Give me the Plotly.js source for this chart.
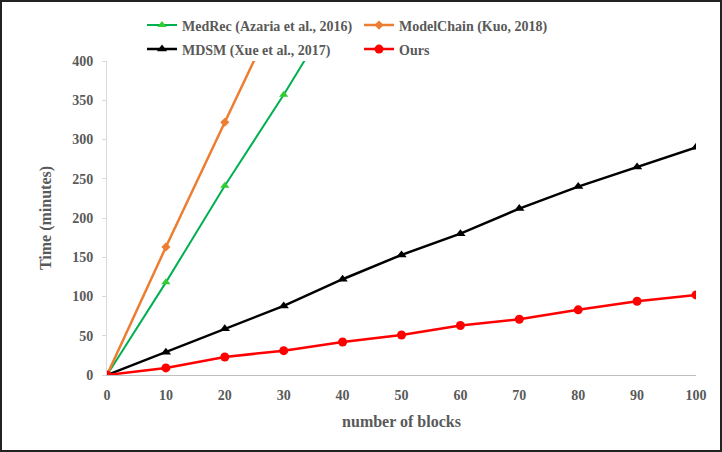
<!DOCTYPE html>
<html>
<head>
<meta charset="utf-8">
<script src="https://cdn.plot.ly/plotly-3.0.1.min.js"></script>
<style>
html,body{margin:0;padding:0;background:#fff;}
#frame{box-sizing:border-box;width:722px;height:452px;border:2px solid #222;overflow:hidden;}
#chart{width:718px;height:448px;}
</style>
</head>
<body>
<div id="frame"><div id="chart"></div></div>
<script>
const blocks = [0, 10, 20, 30, 40, 50, 60, 70, 80, 90, 100];
const medrecX = [0, 10, 20, 30, 40];
const medrec = [0, 118, 241, 357, 480];
const modelchainX = [0, 10, 20, 30];
const modelchain = [0, 163, 322, 480];
const mdsm = [0, 29, 59, 88, 122, 153, 180, 212, 240, 265, 290];
const ours = [0, 9, 23, 31, 42, 51, 63, 71, 83, 94, 102];
const xTicks = [0, 10, 20, 30, 40, 50, 60, 70, 80, 90, 100];
const yTicks = [0, 50, 100, 150, 200, 250, 300, 350, 400];

const fontFam = '"Liberation Serif", "Times New Roman", serif';
const grey = '#595959';

const traces = [
  {x: medrecX, y: medrec, name: 'MedRec (Azaria et al., 2016)', mode: 'lines+markers',
   line: {color: '#00b050', width: 2}, marker: {symbol: 'triangle-up', size: 8, color: '#33cc33'},
   legend: 'legend'},
  {x: modelchainX, y: modelchain, name: 'ModelChain (Kuo, 2018)', mode: 'lines+markers',
   line: {color: '#ed7d31', width: 2.5}, marker: {symbol: 'diamond', size: 7, color: '#ed7d31'},
   legend: 'legend'},
  {x: blocks, y: mdsm, name: 'MDSM (Xue et al., 2017)', mode: 'lines+markers',
   line: {color: '#000000', width: 2.5}, marker: {symbol: 'triangle-up', size: 9, color: '#000000'},
   legend: 'legend2'},
  {x: blocks, y: ours, name: 'Ours', mode: 'lines+markers',
   line: {color: '#ff0000', width: 2.5}, marker: {symbol: 'circle', size: 9, color: '#ff0000'},
   legend: 'legend2'}
];

const legendCommon = {
  orientation: 'h', xref: 'container', yref: 'container', xanchor: 'left', yanchor: 'middle',
  entrywidth: 172, entrywidthmode: 'pixels',
  font: {family: fontFam, size: 14, color: grey, weight: 'bold'},
  bgcolor: 'rgba(0,0,0,0)', itemwidth: 30
};

const layout = {
  width: 718, height: 448,
  margin: {l: 105, r: 24, t: 59, b: 75, autoexpand: false},
  paper_bgcolor: '#ffffff', plot_bgcolor: '#ffffff',
  font: {family: fontFam, color: grey, size: 14, weight: 'bold'},
  showlegend: true,
  legend: Object.assign({x: 0.195, y: 1 - 23.5/448}, legendCommon),
  legend2: Object.assign({x: 0.195, y: 1 - 47.5/448}, legendCommon),
  xaxis: {
    range: [0, 100], tickvals: xTicks, ticktext: xTicks.map(String),
    showgrid: false, zeroline: false, showline: true, linecolor: '#bfbfbf', linewidth: 1,
    ticks: '', ticklabelstandoff: 7,
    tickfont: {family: fontFam, size: 14, color: grey, weight: 'bold'},
    title: {text: 'number of blocks', standoff: 14, font: {family: fontFam, size: 16, color: grey, weight: 'bold'}}
  },
  yaxis: {
    range: [0, 400], tickvals: yTicks, ticktext: yTicks.map(String),
    showgrid: false, zeroline: false, showline: true, linecolor: '#d9d9d9', linewidth: 1,
    ticks: 'outside', ticklen: 4, tickcolor: '#d9d9d9', ticklabelstandoff: 6,
    tickfont: {family: fontFam, size: 14, color: grey, weight: 'bold'},
    title: {text: 'Time (minutes)', standoff: 16, font: {family: fontFam, size: 16, color: grey, weight: 'bold'}}
  }
};

Plotly.newPlot('chart', traces, layout, {displayModeBar: false, staticPlot: true});
</script>
</body>
</html>
